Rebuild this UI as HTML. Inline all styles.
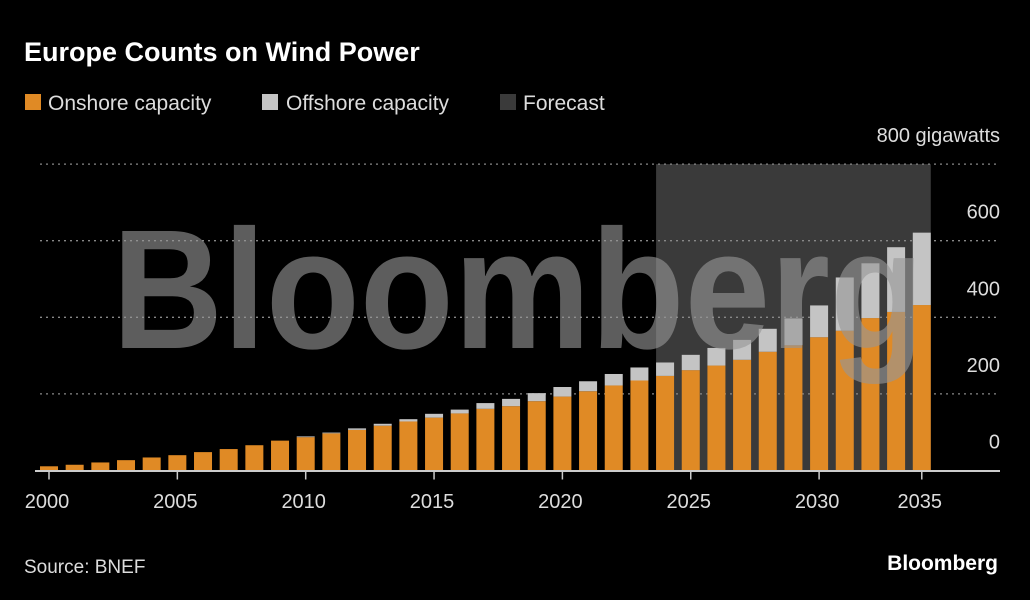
<!DOCTYPE html>
<html><head><meta charset="utf-8"><style>
body{margin:0;background:#000;width:1030px;height:600px;overflow:hidden;font-family:"Liberation Sans",sans-serif}
</style></head><body>
<svg width="1030" height="600" style="position:absolute;left:0;top:0">
<text x="24" y="61" fill="#fff" font-size="27" font-weight="bold">Europe Counts on Wind Power</text>
<g font-size="21" fill="#ddd">
<rect x="25" y="94" width="16" height="16" fill="#e08a25"/>
<text x="48" y="110">Onshore capacity</text>
<rect x="262" y="94" width="16" height="16" fill="#c4c4c4"/>
<text x="286" y="110">Offshore capacity</text>
<rect x="500" y="94" width="16" height="16" fill="#3a3a3a"/>
<text x="523" y="110">Forecast</text>
</g>
<g id="plot"></g>
<text x="24" y="573" fill="#ddd" font-size="19">Source: BNEF</text>
<text x="998" y="570" fill="#fff" font-size="21" font-weight="bold" text-anchor="end">Bloomberg</text>
</svg>
<script>
const years=[2000,2001,2002,2003,2004,2005,2006,2007,2008,2009,2010,2011,2012,2013,2014,2015,2016,2017,2018,2019,2020,2021,2022,2023,2024,2025,2026,2027,2028,2029,2030,2031,2032,2033,2034];
const onshore=[11,15,21,27,34,40,48,56,66,78,87,97,106,117,128,138,149,161,168,181,193,207,222,235,247,262,274,289,310,327,348,365,398,414,432];
const offshore=[0,0,0,0,0,0,0,0,0,0,2,2,4,5,6,10,10,15,19,21,25,26,30,34,35,40,46,52,60,70,83,139,143,169,189];
const yTicks=[0,200,400,600,800];
const yTickLabels=["0","200","400","600","800 gigawatts"];
const xTickIdx=[0,5,10,15,20,25,30,34];
const xTickLabels=["2000","2005","2010","2015","2020","2025","2030","2035"];
const forecastStart=2024;
const NS="http://www.w3.org/2000/svg";
const g=document.getElementById('plot');
const y0=470.5,ky=0.383;
const yS=v=>y0-v*ky;
const x0=49,dx=25.67,bw=18;
const xS=i=>x0+i*dx;
function mk(t,a,p){const e=document.createElementNS(NS,t);for(const k in a)e.setAttribute(k,a[k]);(p||g).appendChild(e);return e;}
const fi=years.indexOf(forecastStart);
let sh=mk('rect',{x:xS(fi)-bw/2,y:yS(800),width:xS(years.length-1)+bw/2-(xS(fi)-bw/2),height:y0-yS(800),fill:'#3a3a3a'});


yTicks.forEach((v,i)=>{
 if(v>0){let l=mk('line',{x1:40,x2:1000,y1:yS(v),y2:yS(v),stroke:'#888','stroke-width':1.3,'stroke-dasharray':'2,4'});
 
 }
 let t=mk('text',{x:1000,y:yS(v)-22,fill:'#ddd','font-size':20,'text-anchor':'end'});
 t.textContent=yTickLabels[i];
 
 
});
years.forEach((yr,i)=>{
 let b=mk('rect',{x:xS(i)-bw/2,y:yS(onshore[i]),width:bw,height:onshore[i]*ky,fill:'#e08a25'});
 
 
 if(offshore[i]>0){let c=mk('rect',{x:xS(i)-bw/2,y:yS(onshore[i]+offshore[i]),width:bw,height:offshore[i]*ky,fill:'#c4c4c4'});
 
 }
});
let w=mk('text',{x:112,y:348,fill:'rgba(150,150,150,0.62)','font-size':170,'font-weight':'bold',textLength:812,lengthAdjust:'spacingAndGlyphs'});
w.textContent='Bloomberg';


let ax=mk('line',{x1:35,x2:1000,y1:y0+0.5,y2:y0+0.5,stroke:'#ccc','stroke-width':2});


xTickIdx.forEach((idx,i)=>{
 let tk=mk('line',{x1:xS(idx),x2:xS(idx),y1:y0,y2:y0+9,stroke:'#ccc','stroke-width':1.5});
 
 
 let t=mk('text',{x:xS(idx)-2,y:508,fill:'#ddd','font-size':20,'text-anchor':'middle'});
 t.textContent=xTickLabels[i];
 
 
});
</script>
</body></html>
